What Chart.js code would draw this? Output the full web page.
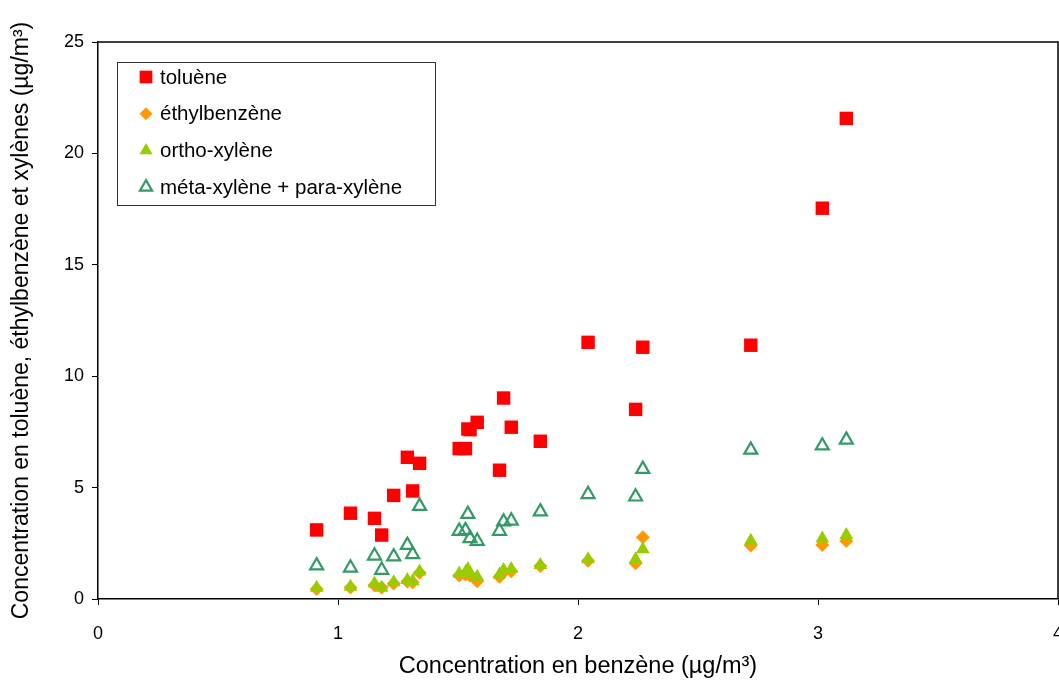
<!DOCTYPE html>
<html>
<head>
<meta charset="utf-8">
<script src="https://cdn.jsdelivr.net/npm/chart.js@4.4.0/dist/chart.umd.min.js"></script>
<style>
    html, body { margin: 0; padding: 0; background: #fff; }
    #wrap { width: 1059px; height: 684px; }
</style>
</head>
<body>
<div id="wrap"><canvas id="chart" width="1059" height="684"></canvas></div>
<script>
// Benzene concentration (x) for each sample
const benzene = [0.911, 1.052, 1.152, 1.182, 1.232, 1.289, 1.311, 1.34, 1.505, 1.531, 1.541, 1.55,
    1.58, 1.673, 1.69, 1.722, 1.843, 2.042, 2.24, 2.27, 2.72, 3.018, 3.118];

const toluene = [3.10, 3.85, 3.62, 2.87, 4.65, 6.36, 4.85, 6.09, 6.75, 6.75, 7.63, 7.60,
    7.93, 5.78, 9.02, 7.71, 7.08, 11.52, 8.51, 11.30, 11.39, 17.54, 21.57];

const ethylbenzene = [0.45, 0.52, 0.62, 0.52, 0.70, 0.78, 0.75, 1.18, 1.05, 1.10, 1.15, 1.05,
    0.80, 1.00, 1.20, 1.25, 1.48, 1.72, 1.60, 2.77, 2.40, 2.42, 2.60];

const orthoXylene = [0.51, 0.55, 0.70, 0.50, 0.75, 0.85, 0.80, 1.23, 1.15, 1.20, 1.35, 1.15,
    1.00, 1.10, 1.30, 1.35, 1.53, 1.78, 1.78, 2.23, 2.62, 2.72, 2.87];

const metaParaXylene = [1.50, 1.40, 1.94, 1.30, 1.90, 2.42, 2.00, 4.17, 3.05, 3.08, 3.81, 2.72,
    2.60, 3.05, 3.47, 3.51, 3.92, 4.70, 4.59, 5.83, 6.69, 6.88, 7.14];

const seriesLabels = ['toluène', 'éthylbenzène', 'ortho-xylène', 'méta-xylène + para-xylène'];
const xTicks = [0, 1, 2, 3, 4];
const yTicks = [0, 5, 10, 15, 20, 25];

const FONT = '"Liberation Sans", Arial, sans-serif';

function points(ys) {
    return benzene.map((x, i) => ({ x: x, y: ys[i] }));
}

// Frame on top/right of plot area
const framePlugin = {
    id: 'frame',
    afterDraw(chart) {
        const { ctx, chartArea: a } = chart;
        ctx.save();
        ctx.strokeStyle = '#000';
        ctx.lineWidth = 1.5;
        ctx.beginPath();
        ctx.moveTo(a.left, a.top);
        ctx.lineTo(a.right, a.top);
        ctx.lineTo(a.right, a.bottom);
        ctx.stroke();
        ctx.restore();
    }
};

// Legend box drawn inside the plot area (top-left)
const boxLegend = {
    id: 'boxLegend',
    afterDraw(chart) {
        const ctx = chart.ctx;
        ctx.save();
        ctx.fillStyle = '#fff';
        ctx.fillRect(117, 62, 318, 143);
        ctx.strokeStyle = '#333';
        ctx.lineWidth = 1;
        ctx.strokeRect(117.5, 62.5, 318, 143);
        ctx.font = '20.5px ' + FONT;
        ctx.textBaseline = 'middle';
        chart.data.datasets.forEach((ds, i) => {
            const y = 77 + i * 36.7;
            ctx.fillStyle = ds.backgroundColor;
            ctx.strokeStyle = ds.borderColor;
            ctx.lineWidth = ds.borderWidth;
            Chart.helpers.drawPoint(ctx, {
                pointStyle: ds.pointStyle,
                radius: ds.legendRadius,
                borderWidth: ds.borderWidth,
                rotation: 0
            }, 146, y);
            ctx.fillStyle = '#000';
            ctx.fillText(ds.label, 160, y + 1);
        });
        ctx.restore();
    }
};

new Chart(document.getElementById('chart'), {
    type: 'scatter',
    data: {
        datasets: [
            {
                label: seriesLabels[0],
                data: points(toluene),
                order: 1,
                pointStyle: 'rect',
                pointRadius: 9.5,
                legendRadius: 9,
                backgroundColor: '#ff0000',
                borderColor: '#ff0000',
                borderWidth: 0,
            },
            {
                label: seriesLabels[1],
                data: points(ethylbenzene),
                order: 4,
                pointStyle: 'rectRot',
                pointRadius: 7,
                legendRadius: 6.5,
                backgroundColor: '#ff9900',
                borderColor: '#ff9900',
                borderWidth: 0,
            },
            {
                label: seriesLabels[2],
                data: points(orthoXylene),
                order: 3,
                pointStyle: 'triangle',
                pointRadius: 8,
                legendRadius: 7.5,
                backgroundColor: '#99cc00',
                borderColor: '#99cc00',
                borderWidth: 0,
            },
            {
                label: seriesLabels[3],
                data: points(metaParaXylene),
                order: 2,
                pointStyle: 'triangle',
                pointRadius: 7.5,
                legendRadius: 7,
                backgroundColor: 'rgba(255,255,255,0)',
                borderColor: '#339966',
                borderWidth: 2.2,
            },
        ],
    },
    options: {
        responsive: false,
        animation: false,
        layout: {
            autoPadding: false,
            padding: { top: 42, right: 1, left: 0, bottom: 0 },
        },
        scales: {
            x: {
                type: 'linear',
                min: 0,
                max: 4,
                afterBuildTicks: (scale) => { scale.ticks = xTicks.map(v => ({ value: v })); },
                afterFit: (scale) => {
                    scale.height = 85;
                    scale.paddingLeft = 0;
                    scale.paddingRight = 0;
                },
                border: { color: '#000', width: 1.5 },
                grid: { drawOnChartArea: false, drawTicks: true, tickLength: 6, color: '#000' },
                ticks: {
                    color: '#000',
                    padding: 18,
                    maxRotation: 0,
                    font: { family: FONT, size: 18 },
                },
                title: {
                    display: true,
                    text: 'Concentration en benzène (µg/m³)',
                    color: '#000',
                    font: { family: FONT, size: 23.5 },
                    padding: { top: 6, bottom: 3 },
                },
            },
            y: {
                type: 'linear',
                min: 0,
                max: 25,
                afterBuildTicks: (scale) => { scale.ticks = yTicks.map(v => ({ value: v })); },
                afterFit: (scale) => {
                    scale.width = 98;
                    scale.paddingTop = 0;
                    scale.paddingBottom = 0;
                },
                border: { color: '#000', width: 1.5 },
                grid: { drawOnChartArea: false, drawTicks: true, tickLength: 6, color: '#000' },
                ticks: {
                    color: '#000',
                    padding: 8,
                    font: { family: FONT, size: 18 },
                },
                title: {
                    display: true,
                    text: 'Concentration en toluène, éthylbenzène et xylènes (µg/m³)',
                    color: '#000',
                    font: { family: FONT, size: 23 },
                    padding: { top: 8, bottom: 0 },
                },
            },
        },
        plugins: {
            legend: { display: false },
            tooltip: { enabled: false },
        },
    },
    plugins: [framePlugin, boxLegend],
});
</script>
</body>
</html>
